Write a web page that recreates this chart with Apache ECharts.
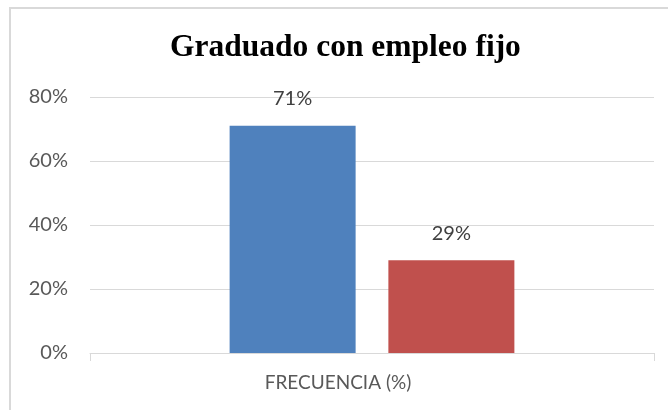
<!DOCTYPE html>
<html>
<head>
<meta charset="utf-8">
<script src="https://cdn.jsdelivr.net/npm/echarts@6/dist/echarts.min.js"></script>
<style>
  html, body { margin: 0; padding: 0; background: #fff; overflow: hidden; }
  #frame { position: absolute; left: 9px; top: 7px; width: 700px; height: 450px; border-left: 2px solid #d9d9d9; border-top: 2px solid #d9d9d9; }
  #main { position: absolute; left: 0; top: 0; width: 668px; height: 410px; }
</style>
</head>
<body>
<div id="frame"></div>
<div id="main"></div>
<script>
var myChart = echarts.init(document.getElementById('main'));

const categories = ['FRECUENCIA (%)'];
const seriesNames = ['Sí', 'No'];
const values = [71, 29];
const colors = ['#4f81bd', '#c0504d'];
const yTicks = [0, 20, 40, 60, 80];

const series = values.map((v, i) => {
    return {
        name: seriesNames[i],
        type: 'bar',
        data: [v],
        barWidth: 126,
        barGap: '26%',
        itemStyle: { color: colors[i] },
        label: {
            show: true,
            position: 'top',
            distance: 17,
            formatter: '{c}%',
            color: '#404040',
            fontSize: 20,
            fontFamily: 'Lato'
        }
    }
});

option = {
    animation: false,
    title: {
        text: 'Graduado con empleo fijo',
        left: 165,
        top: 27,
        textStyle: {
            fontFamily: 'Liberation Serif',
            fontWeight: 'bold',
            fontSize: 31.5,
            color: '#000'
        }
    },
    grid: { left: 90, right: 14, top: 97, bottom: 57 },
    xAxis: {
        type: 'category',
        data: categories,
        axisLine: { lineStyle: { color: '#d9d9d9' } },
        axisTick: { show: true, length: 8, lineStyle: { color: '#d9d9d9' } },
        axisLabel: {
            margin: 20,
            padding: [0, 68, 0, 0],
            color: '#595959',
            fontSize: 19,
            fontFamily: 'Lato'
        }
    },
    yAxis: {
        type: 'value',
        min: yTicks[0],
        max: yTicks[yTicks.length - 1],
        interval: 20,
        axisLine: { show: false },
        axisTick: { show: false },
        splitLine: { lineStyle: { color: '#d9d9d9' } },
        axisLabel: {
            margin: 22,
            formatter: '{value}%',
            color: '#595959',
            fontSize: 20,
            fontFamily: 'Lato'
        }
    },
    series: series
};

myChart.setOption(option);
</script>
</body>
</html>
